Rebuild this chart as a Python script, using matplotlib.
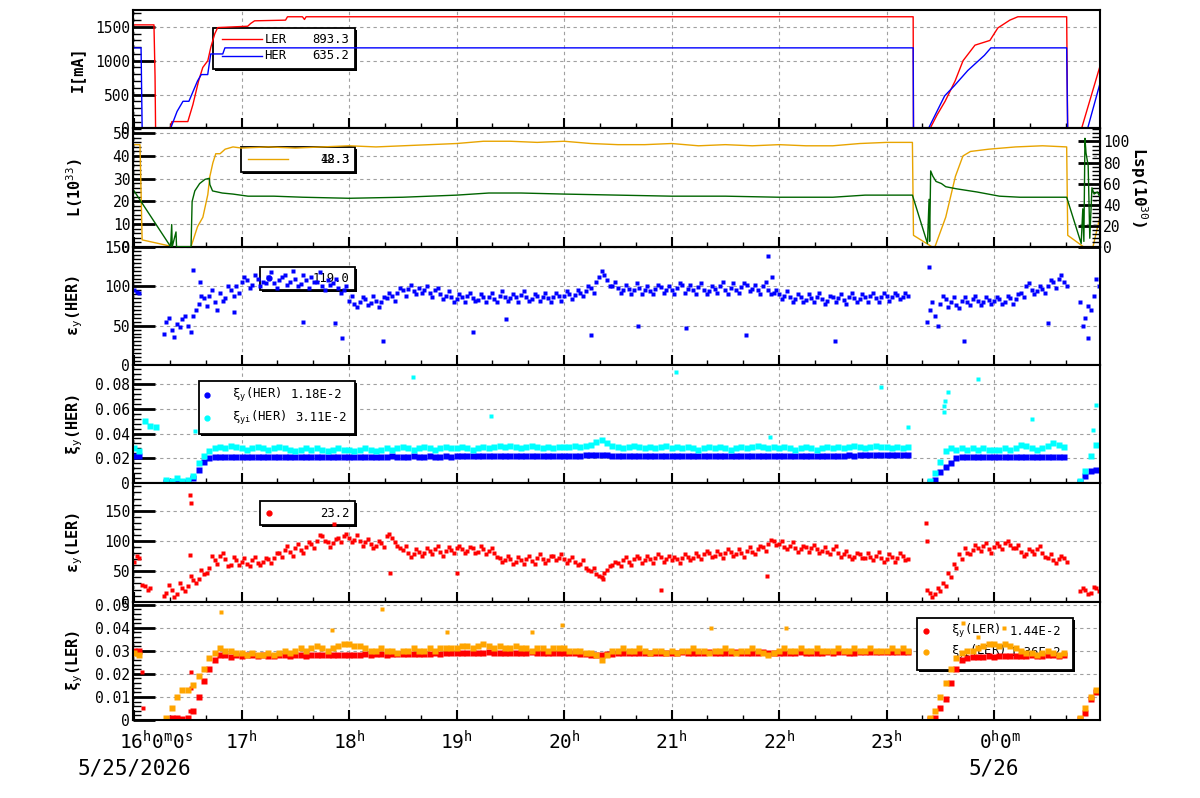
import numpy as np
import matplotlib
matplotlib.use('Agg')
import matplotlib.pyplot as plt
from matplotlib.ticker import MultipleLocator, AutoMinorLocator, FuncFormatter
from matplotlib.patches import Rectangle
from matplotlib.transforms import ScaledTranslation

nan = np.nan

# time axis: hours after 16:00 on 5/25/2026
HOUR_TICKS = [0, 1, 2, 3, 4, 5, 6, 7, 8]
HOUR_LABELS = ['16$^{h}$0$^{m}$0$^{s}$', '17$^{h}$', '18$^{h}$', '19$^{h}$', '20$^{h}$',
               '21$^{h}$', '22$^{h}$', '23$^{h}$', '0$^{h}$0$^{m}$']
DATE_LABELS = {0: '5/25/2026', 8: '5/26'}

# ---- beam currents [mA]
LER_T = [0, 0.185, 0.195, 0.20, 0.334, 0.352, 0.50, 0.547, 0.60, 0.639, 0.686, 0.714, 0.751, 0.778,
         1.057, 1.084, 1.121, 1.409, 1.427, 1.566, 1.585, 1.60, 7.247, 7.25, 7.405, 7.47, 7.544,
         7.637, 7.711, 7.822, 7.961, 8.035, 8.146, 8.221, 8.675, 8.684, 8.814, 8.98]
LER_I = [1530, 1530, 770, 0, 0, 100, 100, 350, 700, 900, 1000, 1200, 1400, 1490,
         1510, 1550, 1590, 1600, 1650, 1650, 1610, 1650, 1650, 0, 0, 200, 400,
         700, 1000, 1230, 1300, 1485, 1600, 1650, 1650, 0, 0, 893.3]
HER_T = [0, 0.065, 0.075, 0.34, 0.40, 0.455, 0.51, 0.59, 0.625, 0.685, 0.713, 0.825, 0.845,
         7.247, 7.25, 7.39, 7.54, 7.63, 7.755, 7.91, 7.97, 8.675, 8.684, 8.87, 8.98]
HER_I = [1190, 1190, 0, 0, 250, 400, 400, 700, 795, 795, 1100, 1100, 1190,
         1190, 0, 0, 480, 630, 855, 1080, 1190, 1190, 0, 0, 635.2]

# ---- luminosity L (1e33) and specific luminosity Lsp (1e30)
L_T = [0, 0.055, 0.075, 0.36, 0.53, 0.59, 0.64, 0.686, 0.705, 0.733, 0.76, 0.80, 0.847, 0.92, 1.0,
       1.25, 1.5, 1.75, 2.0, 2.25, 2.5, 2.75, 3.0, 3.25, 3.5, 3.75, 4.0, 4.25, 4.5, 4.75,
       5.0, 5.25, 5.5, 5.75, 6.0, 6.25, 6.5, 6.75, 7.0, 7.24, 7.25, 7.42, 7.45, 7.55, 7.64,
       7.71, 7.78, 7.95, 8.2, 8.45, 8.675, 8.685, 8.83, 8.92, 8.98]
L_V = [45, 45, 3, 0, 0, 8.8, 13, 23, 31, 37, 41, 41, 43, 44, 43.5,
       44, 43.5, 44, 44.5, 44, 44.5, 45, 45.5, 46.5, 46.5, 46, 46.5, 45.5, 45, 45,
       45.5, 44.5, 45, 44.5, 45, 44.5, 44.5, 45.5, 46, 46, 5, 0, 0, 13, 31,
       40, 42, 43, 44, 44.5, 44, 5, 0, 0, 12.3]
LSP_T = [0, 0.34, 0.35, 0.355, 0.39, 0.395, 0.53, 0.54, 0.565, 0.61, 0.66, 0.70, 0.705, 0.73, 0.82,
         0.92, 1.06, 1.3, 1.57, 2.0, 2.5, 3.0, 3.3, 3.6, 4.0, 4.5, 5.0, 5.5, 6.0, 6.5,
         6.8, 7.0, 7.24, 7.38, 7.395, 7.40, 7.41, 7.43, 7.46, 7.51, 7.55, 7.65, 7.84, 8.05, 8.24,
         8.5, 8.675, 8.81, 8.825, 8.835, 8.845, 8.855, 8.875, 8.89, 8.91, 8.93, 8.96, 8.98]
LSP_V = [53, 0, 21, 0, 14, 0, 0, 43, 53, 60, 64, 65, 59, 53, 51,
         50, 48, 48, 47, 46, 47, 49, 51, 51, 50, 49, 48, 48, 47, 47,
         49, 49, 49, 3, 45, 5, 72, 67, 62, 60, 57, 55, 52, 48, 47,
         47, 47, 3, 36, 5, 103, 89, 77, 8, 56, 50, 52, 48.3]

# ---- sampled every 3 minutes from 16:00 (20 samples per hour);
# the *_B lists are the in-between samples (offset by half a step)
STEP_H = 0.05
HER_EPS = [95, 92, nan, nan, nan, nan, 55, 45, 52, 58, 50, 62, 78, 85, 88, 80, 92, 85, 95, 100,
           105, 108, 102, 110, 106, 112, 104, 108, 115, 106, 110, 103, 108, 112, 105, 100, 108, 104, 98, 95,
           82, 78, 80, 84, 79, 82, 80, 85, 88, 92, 95, 97, 94, 98, 96, 92, 95, 90, 88, 86,
           84, 86, 88, 85, 83, 87, 86, 84, 88, 86, 85, 87, 89, 86, 84, 88, 87, 85, 86, 88,
           88, 90, 89, 92, 94, 98, 106, 120, 108, 100, 98, 96, 97, 95, 98, 96, 94, 97, 99, 96,
           96, 98, 102, 97, 95, 99, 96, 94, 97, 100, 95, 98, 96, 99, 102, 97, 95, 100, 96, 92,
           90, 88, 86, 84, 86, 83, 85, 87, 84, 82, 86, 85, 83, 87, 85, 84, 86, 88, 85, 87,
           88, 87, 89, 86, 88, nan, nan, nan, 70, 62, 78, 84, 80, 76, 82, 80, 84, 82, 80, 83,
           82, 84, 80, 85, 84, 92, 100, 96, 94, 97, 100, 105, 110, 106, nan, nan, 80, 60, 70, 110]
HER_EPS_B = [93, nan, nan, nan, nan, 40, 60, 35, 48, 62, 42, 70, 88, 75, 95, 70, 82, 100, 88, 92,
             112, 98, 115, 100, 104, 118, 98, 112, 102, 120, 100, 114, 98, 106, 118, 96, 102, 110, 92, 100,
             88, 74, 86, 76, 88, 74, 86, 92, 82, 98, 88, 102, 90, 92, 100, 86, 98, 84, 94, 80,
             90, 80, 92, 82, 90, 80, 92, 80, 94, 82, 90, 80, 94, 82, 90, 82, 92, 80, 92, 82,
             94, 84, 96, 88, 100, 92, 112, 114, 100, 106, 92, 102, 90, 104, 90, 100, 90, 102, 92, 100,
             90, 104, 92, 102, 90, 104, 90, 100, 92, 106, 90, 104, 92, 104, 94, 102, 90, 106, 90, 96,
             84, 94, 80, 90, 80, 90, 80, 92, 78, 88, 80, 90, 78, 92, 80, 90, 80, 92, 80, 92,
             82, 92, 84, 92, nan, nan, nan, 55, 80, 50, 88, 74, 86, 72, 86, 76, 88, 76, 86, 78,
             86, 78, 88, 78, 90, 86, 104, 90, 100, 92, 108, 98, 114, 100, nan, nan, 50, 75, 88, 100]
HER_EPS_OUT_T = [0.55, 0.61, 0.93, 1.57, 1.87, 1.93, 2.32, 3.15, 3.46, 4.25,
                 4.69, 5.13, 5.69, 5.90, 5.93, 6.52, 7.39, 7.72, 8.50, 8.87]
HER_EPS_OUT_V = [121, 106, 68, 55, 53, 34, 31, 42, 58, 38,
                 50, 47, 38, 139, 112, 30, 125, 31, 53, 34]

HER_XI = [0.022, 0.022, nan, nan, nan, nan, 0.001, 0.001, 0.001, 0.001, 0.001, 0.004, 0.011, 0.017, 0.020, 0.021, 0.021, 0.021, 0.021, 0.021,
          0.021, 0.0212, 0.0209, 0.021, 0.0211, 0.0213, 0.021, 0.0212, 0.0214, 0.0211, 0.021, 0.0212, 0.0213, 0.0211, 0.021, 0.0212, 0.0214, 0.0212, 0.0211, 0.0213,
          0.0214, 0.0212, 0.0213, 0.0215, 0.0213, 0.0214, 0.0212, 0.0215, 0.0216, 0.0214, 0.0213, 0.0215, 0.0216, 0.0214, 0.0215, 0.0217, 0.0215, 0.0214, 0.0216, 0.0215,
          0.0216, 0.0218, 0.0217, 0.0219, 0.022, 0.0218, 0.0219, 0.0221, 0.022, 0.0219, 0.0221, 0.022, 0.0222, 0.0221, 0.022, 0.0219, 0.0221, 0.0222, 0.022, 0.0221,
          0.0221, 0.0222, 0.0222, 0.0223, 0.0224, 0.0226, 0.0228, 0.0227, 0.0224, 0.0221, 0.0222, 0.022, 0.0221, 0.0222, 0.0221, 0.022, 0.0222, 0.0221, 0.022, 0.0221,
          0.0222, 0.0221, 0.022, 0.0221, 0.0222, 0.0221, 0.022, 0.0222, 0.0221, 0.0222, 0.0223, 0.0221, 0.022, 0.0222, 0.0221, 0.0222, 0.0221, 0.022, 0.0221, 0.0222,
          0.0221, 0.0222, 0.0221, 0.022, 0.0222, 0.0221, 0.0222, 0.0223, 0.0222, 0.0221, 0.0222, 0.0223, 0.0222, 0.0224, 0.0223, 0.0225, 0.0226, 0.0228, 0.0227, 0.0228,
          0.0229, 0.0228, 0.023, 0.0229, 0.0228, nan, nan, nan, 0.001, 0.003, 0.009, 0.013, 0.016, 0.020, 0.021, 0.0212, 0.021, 0.0211, 0.0212, 0.021,
          0.0211, 0.021, 0.0212, 0.0211, 0.021, 0.0212, 0.0211, 0.021, 0.0211, 0.0212, 0.021, 0.0211, 0.021, 0.0212, nan, nan, 0.001, 0.006, 0.010, 0.011]
HER_XII = [0.028, 0.026, 0.050, 0.046, 0.045, nan, 0.003, 0.002, 0.004, 0.002, 0.003, 0.006, 0.016, 0.022, 0.026, 0.028, 0.029, 0.028, 0.030, 0.029,
           0.028, 0.027, 0.028, 0.029, 0.028, 0.027, 0.028, 0.029, 0.028, 0.027, 0.026, 0.027, 0.028, 0.027, 0.028, 0.027, 0.026, 0.027, 0.028, 0.027,
           0.027, 0.026, 0.027, 0.028, 0.027, 0.026, 0.027, 0.028, 0.027, 0.028, 0.029, 0.028, 0.027, 0.028, 0.029, 0.028, 0.027, 0.028, 0.029, 0.028,
           0.028, 0.029, 0.028, 0.027, 0.028, 0.029, 0.028, 0.029, 0.030, 0.029, 0.030, 0.029, 0.028, 0.029, 0.030, 0.029, 0.028, 0.029, 0.028, 0.029,
           0.029, 0.029, 0.030, 0.029, 0.030, 0.031, 0.033, 0.035, 0.032, 0.030, 0.029, 0.028, 0.029, 0.030, 0.029, 0.028, 0.029, 0.028, 0.029, 0.030,
           0.028, 0.029, 0.028, 0.029, 0.028, 0.027, 0.028, 0.029, 0.028, 0.029, 0.028, 0.027, 0.028, 0.029, 0.028, 0.029, 0.030, 0.029, 0.028, 0.029,
           0.028, 0.029, 0.028, 0.027, 0.028, 0.029, 0.028, 0.027, 0.028, 0.029, 0.028, 0.029, 0.028, 0.029, 0.030, 0.029, 0.028, 0.029, 0.030, 0.029,
           0.029, 0.028, 0.029, 0.028, 0.029, nan, nan, nan, 0.002, 0.008, 0.017, 0.026, 0.028, 0.027, 0.028, 0.027, 0.028, 0.027, 0.028, 0.027,
           0.027, 0.027, 0.028, 0.027, 0.028, 0.031, 0.030, 0.028, 0.027, 0.028, 0.030, 0.032, 0.031, 0.029, nan, nan, 0.002, 0.010, 0.022, 0.031]
HER_XII_OUT_T = [0.57, 2.59, 3.32, 5.04, 5.92, 6.95, 7.20, 7.53, 7.53, 7.54, 7.57, 7.85, 8.35, 8.92, 8.95]
HER_XII_OUT_V = [0.042, 0.085, 0.054, 0.089, 0.037, 0.077, 0.045, 0.057, 0.062, 0.066, 0.073, 0.084, 0.052, 0.043, 0.063]

LER_EPS = [65, 72, 25, 22, nan, nan, 15, 20, 12, 22, 25, 35, 38, 45, 55, 68, 75, 70, 60, 68,
           65, 62, 68, 64, 66, 70, 72, 80, 85, 82, 88, 85, 90, 95, 100, 108, 98, 96, 105, 108,
           105, 102, 100, 98, 95, 92, 96, 108, 105, 92, 85, 80, 78, 82, 80, 84, 86, 82, 84, 85,
           88, 86, 84, 88, 82, 86, 84, 80, 72, 68, 70, 66, 68, 70, 67, 72, 70, 68, 75, 72,
           70, 68, 66, 62, 56, 50, 45, 40, 52, 60, 64, 68, 66, 70, 72, 68, 70, 72, 74, 70,
           68, 70, 72, 74, 72, 76, 78, 80, 76, 78, 80, 82, 78, 80, 84, 82, 86, 90, 95, 100,
           95, 90, 92, 88, 86, 90, 88, 86, 84, 82, 86, 80, 78, 76, 74, 78, 72, 74, 76, 72,
           70, 74, 72, 76, 70, nan, nan, nan, 15, 12, 18, 25, 40, 55, 70, 80, 85, 88, 92, 86,
           90, 92, 96, 94, 88, 82, 78, 84, 86, 80, 72, 68, 70, 72, nan, nan, 18, 20, 15, 22]
LER_EPS_B = [75, 28, 20, nan, nan, 10, 28, 8, 30, 18, 42, 30, 52, 48, 75, 62, 80, 58, 74, 60,
             72, 58, 74, 60, 72, 64, 80, 74, 92, 76, 95, 80, 98, 88, 110, 100, 90, 104, 98, 112,
             98, 110, 92, 104, 88, 100, 90, 112, 98, 88, 92, 74, 86, 76, 88, 78, 92, 76, 90, 80,
             92, 80, 90, 80, 92, 78, 88, 74, 66, 76, 62, 74, 62, 76, 62, 78, 64, 76, 68, 78,
             64, 74, 60, 68, 52, 56, 42, 48, 58, 66, 58, 74, 60, 76, 64, 76, 64, 78, 66, 76,
             74, 64, 78, 68, 80, 70, 84, 74, 84, 72, 86, 76, 86, 74, 90, 78, 92, 84, 102, 94,
             100, 86, 98, 82, 92, 82, 94, 80, 90, 78, 92, 74, 84, 70, 80, 72, 80, 68, 82, 66,
             78, 66, 80, 68, nan, nan, nan, 20, 8, 22, 30, 48, 62, 78, 88, 78, 94, 84, 96, 80,
             96, 86, 100, 88, 94, 76, 86, 78, 92, 74, 78, 64, 76, 66, nan, nan, 22, 12, 24, 18]
LER_EPS_OUT_T = [0.52, 0.53, 0.52, 1.86, 2.38, 3.00, 4.36, 4.90, 5.89, 7.37, 7.38]
LER_EPS_OUT_V = [175, 163, 77, 128, 47, 48, 38, 20, 43, 130, 100]

LER_XI = [0.030, 0.030, nan, nan, nan, nan, nan, 0.001, 0.001, 0.0005, 0.001, 0.004, 0.010, 0.017, 0.022, 0.026, 0.028, 0.028, 0.0275, 0.028,
          0.0278, 0.028, 0.0282, 0.0279, 0.028, 0.0277, 0.0279, 0.0281, 0.028, 0.0278, 0.0282, 0.028, 0.0279, 0.0281, 0.0283, 0.028, 0.0282, 0.0281, 0.0283, 0.0282,
          0.0281, 0.0283, 0.0282, 0.0284, 0.0283, 0.0285, 0.0284, 0.0283, 0.0285, 0.0286, 0.0284, 0.0285, 0.0287, 0.0286, 0.0288, 0.0287, 0.0289, 0.0288, 0.029, 0.0289,
          0.029, 0.0291, 0.0289, 0.0292, 0.029, 0.0291, 0.0293, 0.0291, 0.029, 0.0292, 0.0291, 0.029, 0.0292, 0.0291, 0.0293, 0.0292, 0.029, 0.0291, 0.0292, 0.029,
          0.0291, 0.029, 0.0289, 0.0287, 0.0285, 0.0283, 0.0282, 0.028, 0.0284, 0.0288, 0.029, 0.0291, 0.029, 0.0292, 0.0291, 0.029, 0.0289, 0.0291, 0.029, 0.0292,
          0.029, 0.0291, 0.0293, 0.0291, 0.029, 0.0292, 0.0291, 0.0293, 0.0292, 0.029, 0.0291, 0.0292, 0.0294, 0.0292, 0.0291, 0.029, 0.0292, 0.0293, 0.0291, 0.029,
          0.0292, 0.0291, 0.029, 0.0292, 0.0293, 0.0291, 0.0292, 0.029, 0.0291, 0.0293, 0.0292, 0.0294, 0.0293, 0.0291, 0.0292, 0.0294, 0.0293, 0.0295, 0.0294, 0.0293,
          0.0294, 0.0293, 0.0295, 0.0293, 0.0294, nan, nan, nan, 0.0003, 0.001, 0.005, 0.009, 0.016, 0.022, 0.026, 0.027, 0.0272, 0.0275, 0.0273, 0.0276,
          0.0275, 0.0278, 0.0276, 0.0279, 0.0278, 0.0277, 0.0279, 0.028, 0.0278, 0.0279, 0.0281, 0.028, 0.0279, 0.0281, nan, nan, 0.0005, 0.003, 0.009, 0.012]
LER_XI_OUT_T = [0.07, 0.08, 0.53, 0.53, 0.52]
LER_XI_OUT_V = [0.021, 0.005, 0.021, 0.014, 0.004]

LER_XII = [0.029, 0.028, nan, nan, nan, nan, 0.001, 0.005, 0.010, 0.013, 0.013, 0.015, 0.019, 0.022, 0.027, 0.029, 0.031, 0.030, 0.030, 0.029,
           0.029, 0.028, 0.029, 0.028, 0.028, 0.029, 0.028, 0.029, 0.030, 0.029, 0.030, 0.031, 0.030, 0.031, 0.032, 0.031, 0.030, 0.031, 0.032, 0.033,
           0.033, 0.032, 0.032, 0.031, 0.030, 0.030, 0.031, 0.030, 0.030, 0.029, 0.030, 0.030, 0.031, 0.030, 0.030, 0.031, 0.030, 0.031, 0.031, 0.031,
           0.031, 0.032, 0.032, 0.031, 0.032, 0.033, 0.032, 0.031, 0.032, 0.031, 0.031, 0.032, 0.031, 0.031, 0.030, 0.031, 0.031, 0.030, 0.031, 0.031,
           0.031, 0.030, 0.030, 0.030, 0.029, 0.029, 0.028, 0.026, 0.028, 0.030, 0.030, 0.031, 0.030, 0.030, 0.031, 0.030, 0.029, 0.030, 0.030, 0.029,
           0.030, 0.029, 0.030, 0.030, 0.031, 0.030, 0.030, 0.029, 0.030, 0.030, 0.031, 0.030, 0.029, 0.030, 0.030, 0.031, 0.030, 0.029, 0.028, 0.029,
           0.030, 0.031, 0.030, 0.030, 0.031, 0.030, 0.030, 0.031, 0.030, 0.030, 0.030, 0.031, 0.030, 0.030, 0.031, 0.030, 0.030, 0.031, 0.030, 0.030,
           0.030, 0.031, 0.030, 0.031, 0.030, nan, nan, nan, 0.001, 0.004, 0.010, 0.016, 0.022, 0.027, 0.029, 0.030, 0.030, 0.031, 0.032, 0.033,
           0.033, 0.032, 0.033, 0.032, 0.031, 0.030, 0.029, 0.029, 0.028, 0.029, 0.030, 0.029, 0.028, 0.029, nan, nan, 0.001, 0.005, 0.010, 0.013]
LER_XII_OUT_T = [0.81, 1.84, 2.31, 2.91, 3.70, 3.98, 5.37, 6.06, 7.71, 7.85, 8.09]
LER_XII_OUT_V = [0.047, 0.039, 0.048, 0.038, 0.038, 0.041, 0.040, 0.040, 0.042, 0.036, 0.040]

RED = '#ff0000'
BLUE = '#0000ff'
ORANGE_L = '#e8a400'
GREEN = '#006400'
CYAN = '#00ffff'
ORANGE = '#ffa500'

plt.rcParams['font.family'] = ['DejaVu Sans Mono']
plt.rcParams['mathtext.fontset'] = 'custom'
plt.rcParams['mathtext.rm'] = 'DejaVu Sans Mono'
plt.rcParams['mathtext.it'] = 'DejaVu Sans Mono'
plt.rcParams['mathtext.bf'] = 'DejaVu Sans Mono:bold'
plt.rcParams['mathtext.default'] = 'rm'

t_grid = np.arange(len(HER_EPS)) * STEP_H
t_mid = t_grid + STEP_H / 2

fig = plt.figure(figsize=(12, 7.98), dpi=100)
gs = fig.add_gridspec(6, 1, left=133 / 1200, right=1100 / 1200,
                      top=1 - 10 / 798, bottom=1 - 720 / 798, hspace=0)
axes = [fig.add_subplot(gs[i]) for i in range(6)]

LEG_FS = 8.8


def fmt(v, pos):
    if abs(v) < 1e-12:
        return '0'
    return '%g' % v


def style(ax, ymax, major, nminor, label):
    ax.set_xlim(-0.01, 8.985)
    ax.set_ylim(0, ymax)
    ax.xaxis.set_major_locator(MultipleLocator(1))
    ax.xaxis.set_minor_locator(MultipleLocator(1 / 3))
    ax.yaxis.set_major_locator(MultipleLocator(major))
    ax.yaxis.set_minor_locator(AutoMinorLocator(nminor))
    ax.yaxis.set_major_formatter(FuncFormatter(fmt))
    ax.tick_params(axis='y', which='major', direction='in', length=16, width=2,
                   labelsize=10.5, pad=2)
    ax.tick_params(axis='y', which='minor', direction='in', length=6, width=1)
    ax.tick_params(axis='x', which='major', direction='in', length=7, width=1.5,
                   labelbottom=False)
    ax.tick_params(axis='x', which='minor', direction='in', length=3.5, width=1)
    ax.grid(True, which='major', ls=(0, (3, 3)), color='#a0a0a0', lw=0.8)
    ax.set_axisbelow(True)
    for s in ax.spines.values():
        s.set_linewidth(1.5)
    ax.set_ylabel(label, fontsize=11, fontweight='bold')
    ax.yaxis.set_label_coords(-0.05, 0.5)


def box(ax, x0, y0, x1, y1):
    sh = ScaledTranslation(2 / 100, -2 / 100, fig.dpi_scale_trans)
    ax.add_patch(Rectangle((x0, y0), x1 - x0, y1 - y0, transform=ax.transAxes + sh,
                           fc='black', ec='none', zorder=1.2, clip_on=False))
    ax.add_patch(Rectangle((x0, y0), x1 - x0, y1 - y0, transform=ax.transAxes,
                           fc='white', ec='black', lw=1.3, zorder=1.3, clip_on=False))


def ltext(ax, x, y, s, ha='left'):
    ax.text(x, y, s, transform=ax.transAxes, ha=ha, va='center', fontsize=LEG_FS, zorder=1.5)


def dots(ax, t, v, color, ms):
    ax.plot(t, v, 's', color=color, ms=ms, mec='none', zorder=2)


# panel 1: currents
ax = axes[0]
ax.plot(LER_T, LER_I, color=RED, lw=1, zorder=2)
ax.plot(HER_T, HER_I, color=BLUE, lw=1, zorder=2.1)
style(ax, 1750, 500, 5, 'I[mA]')
box(ax, 0.083, 0.504, 0.230, 0.846)
ax.plot([0.092, 0.133], [0.752, 0.752], color=RED, lw=1, transform=ax.transAxes, zorder=1.4)
ax.plot([0.092, 0.133], [0.615, 0.615], color=BLUE, lw=1, transform=ax.transAxes, zorder=1.4)
ltext(ax, 0.136, 0.752, 'LER')
ltext(ax, 0.224, 0.752, '893.3', 'right')
ltext(ax, 0.136, 0.615, 'HER')
ltext(ax, 0.224, 0.615, '635.2', 'right')

# panel 2: luminosity
ax = axes[1]
ax.plot(L_T, L_V, color=ORANGE_L, lw=1, zorder=2)
style(ax, 52.2, 10, 5, 'L(10$^{33}$)')
box(ax, 0.112, 0.627, 0.230, 0.839)
ax.plot([0.119, 0.160], [0.737, 0.737], color=ORANGE_L, lw=1, transform=ax.transAxes, zorder=1.4)
ltext(ax, 0.224, 0.737, '48.3', 'right')
ltext(ax, 0.224, 0.737, '12.3', 'right')
ax2 = ax.twinx()
ax2.plot(LSP_T, LSP_V, color=GREEN, lw=1)
ax2.set_ylim(0, 112.5)
ax2.yaxis.set_major_locator(MultipleLocator(20))
ax2.yaxis.set_minor_locator(AutoMinorLocator(5))
ax2.yaxis.set_major_formatter(FuncFormatter(fmt))
ax2.tick_params(axis='y', which='major', direction='in', length=16, width=2, labelsize=10.5, pad=2)
ax2.tick_params(axis='y', which='minor', direction='in', length=6, width=1)
ax2.set_ylabel('Lsp(10$^{30}$)', fontsize=11.5, fontweight='bold', rotation=270, va='center')
ax2.yaxis.set_label_coords(1.04, 0.5)

# panel 3: HER vertical emittance
ax = axes[2]
dots(ax, t_grid, HER_EPS, BLUE, 3.4)
dots(ax, t_mid, HER_EPS_B, BLUE, 3.4)
dots(ax, HER_EPS_OUT_T, HER_EPS_OUT_V, BLUE, 3.4)
style(ax, 150.5, 50, 10, 'ε$_{y}$(HER)')
box(ax, 0.131, 0.630, 0.230, 0.832)
ax.plot([0.141], [0.731], 'o', color=BLUE, ms=3.5, transform=ax.transAxes, zorder=1.4)
ltext(ax, 0.224, 0.731, '119.0', 'right')

# panel 4: HER beam-beam parameters
ax = axes[3]
dots(ax, t_grid, HER_XI, BLUE, 4)
dots(ax, t_grid, HER_XII, CYAN, 4)
dots(ax, HER_XII_OUT_T, HER_XII_OUT_V, CYAN, 3.5)
style(ax, 0.095, 0.02, 5, 'ξ$_{y}$(HER)')
box(ax, 0.068, 0.420, 0.230, 0.866)
ax.plot([0.077], [0.748], 'o', color=BLUE, ms=3.5, transform=ax.transAxes, zorder=1.4)
ax.plot([0.077], [0.555], 'o', color=CYAN, ms=3.5, transform=ax.transAxes, zorder=1.4)
ltext(ax, 0.102, 0.748, 'ξ$_{y}$(HER)')
ltext(ax, 0.216, 0.748, '1.18E-2', 'right')
ltext(ax, 0.102, 0.555, 'ξ$_{yi}$(HER)')
ltext(ax, 0.221, 0.555, '3.11E-2', 'right')

# panel 5: LER vertical emittance
ax = axes[4]
dots(ax, t_grid, LER_EPS, RED, 3.4)
dots(ax, t_mid, LER_EPS_B, RED, 3.4)
dots(ax, LER_EPS_OUT_T, LER_EPS_OUT_V, RED, 3.4)
style(ax, 195, 50, 5, 'ε$_{y}$(LER)')
box(ax, 0.131, 0.644, 0.230, 0.847)
ax.plot([0.141], [0.746], 'o', color=RED, ms=3.5, transform=ax.transAxes, zorder=1.4)
ltext(ax, 0.224, 0.746, '23.2', 'right')

# panel 6: LER beam-beam parameters
ax = axes[5]
dots(ax, t_grid, LER_XI, RED, 4)
dots(ax, LER_XI_OUT_T, LER_XI_OUT_V, RED, 3.5)
dots(ax, t_grid, LER_XII, ORANGE, 4)
dots(ax, LER_XII_OUT_T, LER_XII_OUT_V, ORANGE, 3.5)
style(ax, 0.0513, 0.01, 5, 'ξ$_{y}$(LER)')
box(ax, 0.811, 0.420, 0.972, 0.866)
ax.plot([0.820], [0.748], 'o', color=RED, ms=3.5, transform=ax.transAxes, zorder=1.4)
ax.plot([0.820], [0.571], 'o', color=ORANGE, ms=3.5, transform=ax.transAxes, zorder=1.4)
ltext(ax, 0.846, 0.748, 'ξ$_{y}$(LER)')
ltext(ax, 0.960, 0.748, '1.44E-2', 'right')
ltext(ax, 0.846, 0.571, 'ξ$_{yi}$(LER)')
ltext(ax, 0.960, 0.571, '1.36E-2', 'right')

# time labels under the last panel
for h, lab in zip(HOUR_TICKS, HOUR_LABELS):
    dx = 22 if h == 0 else (6 if h == 8 else 0)
    ax.annotate(lab, xy=(h, 0), xycoords=('data', 'axes fraction'), xytext=(dx, -30),
                textcoords='offset pixels', ha='center', va='baseline', fontsize=14,
                annotation_clip=False)
for h, lab in DATE_LABELS.items():
    ax.annotate(lab, xy=(h, 0), xycoords=('data', 'axes fraction'), xytext=(0, -55),
                textcoords='offset pixels', ha='center', va='baseline', fontsize=15,
                annotation_clip=False)

fig.savefig('out.png', dpi=100, facecolor='white')
